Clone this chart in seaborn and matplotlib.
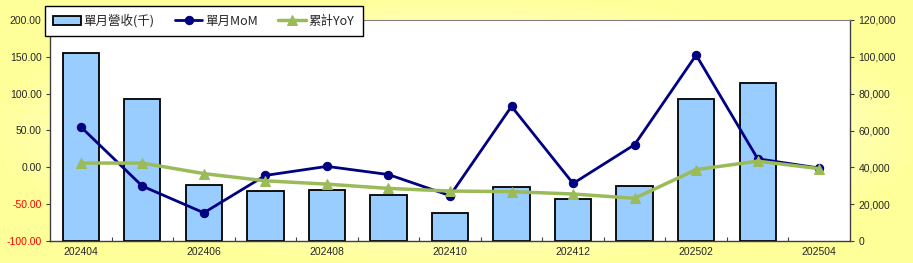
import numpy as np
import pandas as pd
import matplotlib
matplotlib.use("Agg")
import matplotlib.pyplot as plt
import seaborn as sns
from matplotlib.ticker import FixedLocator, FuncFormatter

months = ["202404", "202405", "202406", "202407", "202408", "202409", "202410",
          "202411", "202412", "202501", "202502", "202503", "202504"]
revenue = [102100, 77100, 30400, 27200, 27700, 25000, 15400,
           29200, 22700, 30000, 77300, 85600, np.nan]
mom = [55.0, -25.5, -61.7, -11.0, 1.3, -9.8, -38.4,
       82.7, -21.9, 30.8, 152.4, 11.6, -1.0]
yoy = [5.8, 5.8, -8.5, -18.3, -22.8, -28.6, -32.2,
       -33.0, -36.2, -42.0, -3.1, 8.4, -1.8]

sns.set_theme(style="white")
plt.rcParams['font.family'] = ['Liberation Sans', 'DejaVu Sans']

W, H = 913, 263
fig = plt.figure(figsize=(W / 100, H / 100), dpi=100)

# background gradient
bg = fig.add_axes([0, 0, 1, 1], zorder=-10)
yy, xx = np.mgrid[0:1:200j, 0:1:400j]
r = np.sqrt(((xx - 0.5) / 0.52) ** 2 + ((yy - 0.5) / 0.52) ** 2)
t = np.clip(r, 0, 1) ** 1.3
white = np.array([1.0, 1.0, 1.0])
yellow = np.array([1.0, 1.0, 0.6])
img = white[None, None, :] * (1 - t[..., None]) + yellow[None, None, :] * t[..., None]
bg.imshow(img, aspect="auto", extent=[0, 1, 0, 1])
bg.axis("off")

left, right = 50 / W, 850 / W
bottom, top = 1 - 241 / H, 1 - 20 / H
ax = fig.add_axes([left, bottom, right - left, top - bottom])
ax.set_facecolor("white")

df = pd.DataFrame({"month": months, "revenue": revenue, "mom": mom, "yoy": yoy})
x = np.arange(len(months))

# bars on primary axes (drawn behind)
sns.barplot(data=df, x="month", y="revenue", order=months, color="#99CCFF",
            edgecolor="black", linewidth=1.3, width=0.59, saturation=1, ax=ax,
            label="單月營收(千)")
ax.set_ylim(0, 120000)
ax.set_xlim(-0.5, len(months) - 0.5)
ax.set_xlabel("")
ax.set_ylabel("")

ax2 = ax.twinx()
sns.lineplot(x=x, y=df["mom"], color="#000080", linewidth=2, marker="o",
             markersize=6, markeredgecolor="#000080", ax=ax2, label="單月MoM")
sns.lineplot(x=x, y=df["yoy"], color="#9BBB59", linewidth=2.5, marker="^",
             markersize=7, markeredgecolor="#9BBB59", ax=ax2, label="累計YoY")
ax2.set_ylim(-100, 200)
ax2.set_ylabel("")
ax2.set_xlim(-0.5, len(months) - 0.5)
if ax2.get_legend():
    ax2.get_legend().remove()
if ax.get_legend():
    ax.get_legend().remove()

# swap sides: revenue on right, percentages on left
ax.yaxis.tick_right()
ax.yaxis.set_label_position("right")
ax.yaxis.set_major_locator(FixedLocator(np.arange(0, 120001, 20000)))
ax.yaxis.set_major_formatter(FuncFormatter(lambda v, p: f"{int(v):,}"))
ax2.yaxis.tick_left()
ax2.yaxis.set_label_position("left")
ax2.yaxis.set_major_locator(FixedLocator(np.arange(-100, 201, 50)))
ax2.yaxis.set_major_formatter(FuncFormatter(lambda v, p: f"{v:.2f}"))

# x ticks
ax.set_xticks(x[::2])
ax.set_xticklabels(months[::2], fontsize=7.5)
ax.set_xticks(np.arange(0.5, len(months) - 0.5, 1), minor=True)
ax.tick_params(axis="x", which="both", direction="in", length=3, width=0.8,
               color="#404040", bottom=True, pad=4)
ax.tick_params(axis="x", which="major", length=0)
ax.tick_params(axis="y", labelsize=7.5, direction="out", length=3, width=0.8,
               color="#404040", right=True, left=False, labelright=True,
               labelleft=False, pad=3)
ax2.tick_params(axis="y", labelsize=7.5, direction="out", length=3, width=0.8,
                color="#404040", left=True, right=False, labelleft=True,
                labelright=False, pad=3)
fig.canvas.draw()
for lab in ax2.get_yticklabels():
    try:
        v = float(lab.get_text())
    except ValueError:
        continue
    if v < 0:
        lab.set_color("#FF0000")

for a in (ax, ax2):
    for s in a.spines.values():
        s.set_visible(False)
for s in ("left", "right", "bottom", "top"):
    ax.spines[s].set_visible(True)
    ax.spines[s].set_color("#404040")
    ax.spines[s].set_linewidth(1.0)
ax.spines["top"].set_color("#808080")
ax.spines["top"].set_linewidth(0.8)

# legend
h1, l1 = ax.get_legend_handles_labels()
h2, l2 = ax2.get_legend_handles_labels()
leg = fig.legend(h1 + h2, l1 + l2, loc="upper left",
                 bbox_to_anchor=(45 / W, 1 - 6 / H), ncol=3, frameon=True,
                 fancybox=False, edgecolor="black", framealpha=1,
                 prop={"family": ["Noto Sans CJK TC", "DejaVu Sans"], "size": 9},
                 handlelength=2.2, columnspacing=1.6, borderpad=0.65,
                 handletextpad=0.25, borderaxespad=0)
leg.get_frame().set_linewidth(1.0)

fig.savefig("out.png", dpi=100)
